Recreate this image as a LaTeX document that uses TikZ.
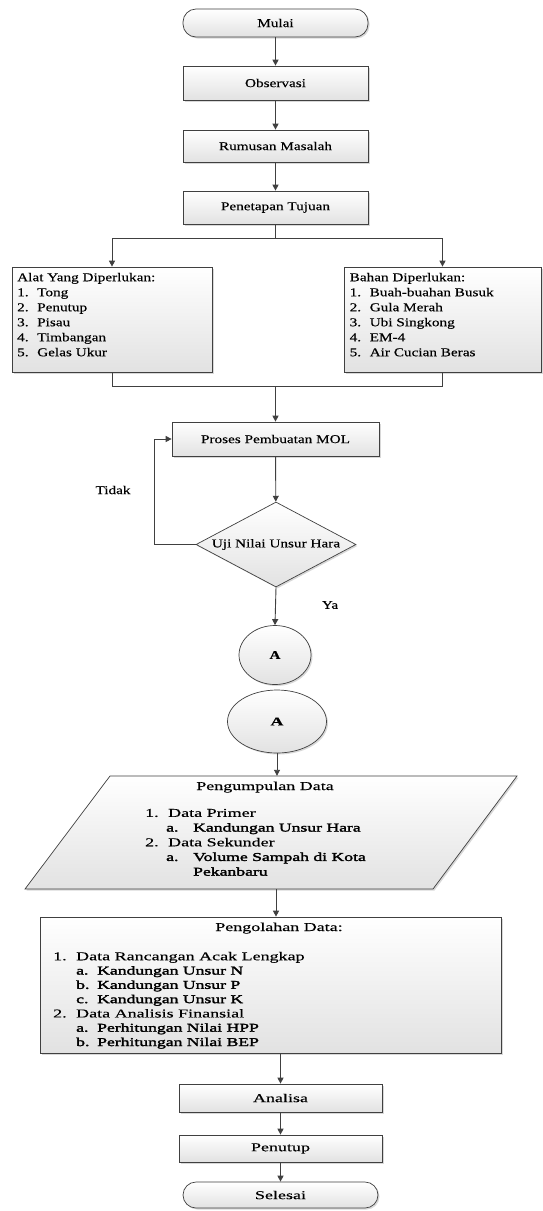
\documentclass[tikz,border=0pt]{standalone}
\usepackage{fontspec}
\setmainfont{Liberation Serif}
\newfontfamily\upf[FakeStretch=1.27,FakeBold=0.3]{Liberation Serif}
\newfontfamily\lowf[FakeStretch=1.5,FakeBold=0.3]{Liberation Serif}
\newfontfamily\lowsb[FakeStretch=1.47,FakeBold=2.2]{Liberation Serif}
\usetikzlibrary{arrows.meta,shapes.geometric,shadows}
\definecolor{lc}{HTML}{404040}
\definecolor{fillb}{HTML}{E2E2E2}
\newcommand{\sbt}[1]{{\lowsb #1}}
\begin{document}
\begin{tikzpicture}[x=1pt,y=-1pt,
  ln/.style={draw=lc,line width=0.9pt},
  arr/.style={ln,-{Triangle[length=6pt,width=6pt]}},
  shd/.style={drop shadow={shadow xshift=1.5pt,shadow yshift=-1.5pt,opacity=0.3,fill=gray}},
  box/.style={rectangle,draw=lc,line width=0.7pt,top color=white,bottom color=fillb,shd,inner sep=0pt},
  upt/.style={font=\upf\fontsize{12}{15}\selectfont},
  lowt/.style={font=\lowf\fontsize{12}{14.3}\selectfont},
  lowp/.style={font=\lowf\fontsize{12}{14.7}\selectfont},
  term/.style={box,rounded corners=13pt},
  listt/.style={align=left,anchor=north west,inner sep=0pt}
]
\useasboundingbox[fill=white] (0,0) rectangle (542,1211);

% upper part
\node[term,upt,minimum width=185,minimum height=28] (mulai) at (275.5,23) {Mulai};
\node[box,upt,minimum width=185,minimum height=34] (obs) at (275.5,83) {Observasi};
\node[box,upt,minimum width=185,minimum height=32] (rum) at (275.5,146) {Rumusan Masalah};
\node[box,upt,minimum width=185,minimum height=33] (pen) at (275.5,207.5) {Penetapan Tujuan};

\node[box,minimum width=200,minimum height=105] (alat) at (112,319.5) {};
\node[box,minimum width=197,minimum height=105] (bahan) at (442.5,319.5) {};
\node[upt,listt] (alatT) at (17,272.7) {Alat Yang Diperlukan:\\
\makebox[20pt][l]{1.}Tong\\
\makebox[20pt][l]{2.}Penutup\\
\makebox[20pt][l]{3.}Pisau\\
\makebox[20pt][l]{4.}Timbangan\\
\makebox[20pt][l]{5.}Gelas Ukur};
\node[upt,listt] (bahanT) at (349.5,272.7) {Bahan Diperlukan:\\
\makebox[20pt][l]{1.}Buah-buahan Busuk\\
\makebox[20pt][l]{2.}Gula Merah\\
\makebox[20pt][l]{3.}Ubi Singkong\\
\makebox[20pt][l]{4.}EM-4\\
\makebox[20pt][l]{5.}Air Cucian Beras};

\node[box,upt,minimum width=207,minimum height=34] (proses) at (275.5,439) {Proses Pembuatan MOL};
\node[box,upt,shape=diamond,aspect=1.88,minimum width=160,minimum height=85] (uji) at (276,544.5) {Uji Nilai Unsur Hara};
\node[upt] (tidak) at (113,490) {Tidak};
\node[upt] (ya) at (330,605) {Ya};
\node[box,upt,shape=ellipse,minimum width=72,minimum height=59] (a1) at (275,655) {\bfseries A};

% lower part
\node[box,lowt,shape=ellipse,minimum width=99,minimum height=63] (a2) at (277,721.5) {\bfseries A};
\path[draw=lc,line width=0.7pt,top color=white,bottom color=fillb,shd]
  (110,776) -- (517,776) -- (433,889) -- (25,889) -- cycle;
\node[inner sep=0pt,minimum width=10,minimum height=113] (pd) at (276,832.5) {};
\node[lowt,anchor=base] (pdTitle) at (265,790) {Pengumpulan Data};
\node[lowp,listt] (pdT) at (145,808.7) {\makebox[23pt][l]{1.}Data Primer\\
\hspace*{21pt}\makebox[27pt][l]{\sbt{a.}}\sbt{Kandungan Unsur Hara}\\
\makebox[23pt][l]{2.}Data Sekunder\\
\hspace*{21pt}\makebox[27pt][l]{\sbt{a.}}\sbt{Volume Sampah di Kota}\\
\hspace*{48pt}\sbt{Pekanbaru}};

\node[box,minimum width=461,minimum height=136] (olah) at (270.5,985) {};
\node[lowt,anchor=base] (olahTitle) at (279,931) {Pengolahan Data:};
\node[lowt,listt] (olahT) at (53,951.7) {\makebox[23pt][l]{1.}Data Rancangan Acak Lengkap\\
\hspace*{23pt}\makebox[21pt][l]{\sbt{a.}}\sbt{Kandungan Unsur N}\\
\hspace*{23pt}\makebox[21pt][l]{\sbt{b.}}\sbt{Kandungan Unsur P}\\
\hspace*{23pt}\makebox[21pt][l]{\sbt{c.}}\sbt{Kandungan Unsur K}\\
\makebox[23pt][l]{2.}Data Analisis Finansial\\
\hspace*{23pt}\makebox[21pt][l]{\sbt{a.}}\sbt{Perhitungan Nilai HPP}\\
\hspace*{23pt}\makebox[21pt][l]{\sbt{b.}}\sbt{Perhitungan Nilai BEP}};

\node[box,lowt,minimum width=203,minimum height=28] (ana) at (280.5,1098) {Analisa};
\node[box,lowt,minimum width=203,minimum height=27] (tutup) at (280.5,1148.5) {Penutup};
\node[term,lowt,minimum width=195,minimum height=26] (selesai) at (280.5,1195) {Selesai};

% connectors
\draw[arr] (mulai) -- (obs);
\draw[arr] (obs) -- (rum);
\draw[arr] (rum) -- (pen);
\draw[arr] (pen.south) -- ++(0,14) -| (alat.north);
\draw[arr] (pen.south) -- ++(0,14) -| (bahan.north);
\draw[ln] (alat.south) -- ++(0,14) -| (bahan.south);
\coordinate (join) at (proses.north |- 0,386);
\draw[arr] (join) -- (proses.north);
\draw[arr] (proses) -- (uji);
\draw[arr] (uji.west) -- ++(-41,0) |- (proses.west);
\draw[arr] (uji.south) -- (a1.north);
\draw[arr] (a2.south) -- (a2.south |- pd.north);
\draw[arr] (pd.south) -- (pd.south |- olah.north);
\draw[arr] (ana.north |- olah.south) -- (ana.north);
\draw[arr] (ana) -- (tutup);
\draw[arr] (tutup) -- (selesai);
\end{tikzpicture}
\end{document}
